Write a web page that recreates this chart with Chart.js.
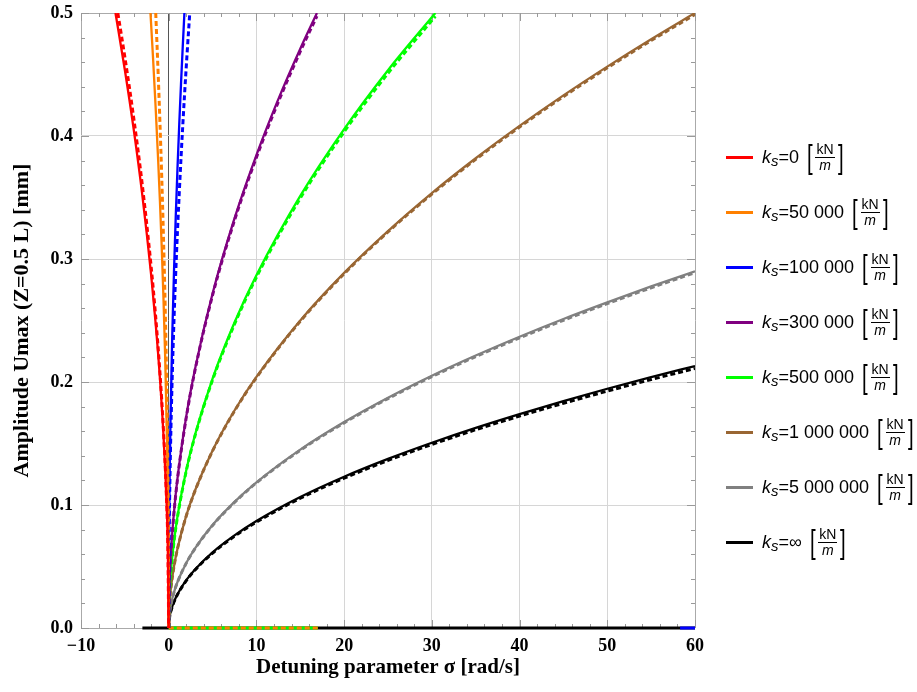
<!DOCTYPE html>
<html>
<head>
<meta charset="utf-8">
<title>Amplitude vs detuning</title>
<script src="https://cdn.jsdelivr.net/npm/chart.js@4.4.0/dist/chart.umd.min.js"></script>
<style>
  body { margin: 0; background: #fff; }
  #wrap { position: absolute; left: 0; top: 0; width: 917px; height: 692px; }
  #legend { position: absolute; left: 726px; top: 130px; font-family: "Liberation Sans", Arial, sans-serif; font-size: 18px; color: #000; }
  .legend-item { display: flex; align-items: center; height: 55px; white-space: nowrap; }
  .legend-color { width: 27px; height: 2.5px; margin-right: 9px; }
  .legend-label { display: flex; align-items: center; }
  .legend-label sub { font-size: 15px; position: relative; top: 3px; vertical-align: baseline; }
  .br { font-size: 34px; font-weight: normal; line-height: 1; margin: 0 1px; position: relative; top: -2px; transform: scaleX(0.6); display: inline-block; }
  .frac { display: inline-flex; flex-direction: column; align-items: center; font-size: 14px; line-height: 1.1; }
  .frac .num { border-bottom: 1px solid #000; padding: 0 1px; }
</style>
</head>
<body>
<div id="wrap"><canvas id="ampChart"></canvas></div>
<div id="legend"></div>
<script>
// tick labels / axes
const xTicks = [-10, 0, 10, 20, 30, 40, 50, 60];
const yTicks = [0, 0.1, 0.2, 0.3, 0.4, 0.5];

// legend
const ksLabels = ["0", "50 000", "100 000", "300 000", "500 000", "1 000 000", "5 000 000", "\u221e"];
const ksColors = ["#ff0000", "#ff8000", "#0000ff", "#800080", "#00ff00", "#996633", "#808080", "#000000"];

// sigma values (rad/s) and amplitudes (mm)
const redSigma = [-6.07, -5, -4, -3, -2, -1.5, -1, -0.6, -0.3, -0.1, 0];
const redAmp = [0.5, 0.4537, 0.4058, 0.3514, 0.2869, 0.2485, 0.2029, 0.1572, 0.1111, 0.0642, 0];
const redDashSigma = [-5.8, -5, -4, -3, -2, -1.5, -1, -0.6, -0.3, -0.1, 0];
const redDashAmp = [0.5, 0.4642, 0.4152, 0.3596, 0.2936, 0.2543, 0.2076, 0.1608, 0.1137, 0.0656, 0];

const orangeSigma = [-2.08, -1.8, -1.5, -1.2, -1, -0.8, -0.6, -0.4, -0.2, -0.1, -0.05, 0];
const orangeAmp = [0.5, 0.4651, 0.4246, 0.3798, 0.3467, 0.3101, 0.2686, 0.2193, 0.155, 0.1096, 0.0775, 0];
const orangeDashSigma = [-1.48, -1.2, -1, -0.8, -0.6, -0.4, -0.2, -0.1, -0.05, 0];
const orangeDashAmp = [0.5, 0.4502, 0.411, 0.3676, 0.3184, 0.2599, 0.1838, 0.13, 0.0919, 0];

const blueSigma = [0, 0.02, 0.05, 0.1, 0.2, 0.4, 0.6, 0.8, 1, 1.2, 1.4, 1.6, 1.79];
const blueAmp = [0, 0.0528, 0.0836, 0.1182, 0.1671, 0.2364, 0.2895, 0.3342, 0.3737, 0.4094, 0.4422, 0.4727, 0.5];
const blueDashSigma = [0, 0.02, 0.05, 0.1, 0.2, 0.4, 0.6, 0.8, 1, 1.4, 1.8, 2.1, 2.4];
const blueDashAmp = [0, 0.0456, 0.0722, 0.102, 0.1443, 0.2041, 0.25, 0.2886, 0.3227, 0.3818, 0.4329, 0.4676, 0.5];

const purpleSigma = [0, 0.1, 0.3, 0.6, 1, 2, 3, 5, 7.5, 10, 12.5, 15, 16.9];
const purpleAmp = [0, 0.0385, 0.0666, 0.0942, 0.1216, 0.172, 0.2106, 0.2719, 0.333, 0.3845, 0.43, 0.471, 0.5];
const purpleDashAmp = [0, 0.0383, 0.0663, 0.0937, 0.121, 0.1711, 0.2096, 0.2706, 0.3314, 0.3826, 0.4278, 0.4687, 0.4975];

const greenSigma = [0, 0.1, 0.3, 0.6, 1, 2, 3, 5, 7.5, 10, 15, 20, 25, 30.4];
const greenAmp = [0, 0.0287, 0.0497, 0.0703, 0.0907, 0.1283, 0.1571, 0.2028, 0.2484, 0.2868, 0.3513, 0.4056, 0.4535, 0.5];
const greenDashAmp = [0, 0.0285, 0.0494, 0.0699, 0.0902, 0.1276, 0.1563, 0.2017, 0.247, 0.2852, 0.3494, 0.4034, 0.451, 0.4973];

const wideSigma = [0, 0.1, 0.3, 0.6, 1, 2, 3, 5, 7.5, 10, 15, 20, 25, 30, 35, 40, 45, 50, 55, 60];
const brownAmp = [0, 0.0204, 0.0354, 0.05, 0.0645, 0.0913, 0.1118, 0.1443, 0.1768, 0.2041, 0.25, 0.2887, 0.3227, 0.3536, 0.3819, 0.4082, 0.433, 0.4564, 0.4787, 0.5];
const brownDashAmp = [0, 0.0204, 0.0353, 0.0499, 0.0644, 0.0911, 0.1115, 0.144, 0.1764, 0.2036, 0.2494, 0.288, 0.322, 0.3527, 0.381, 0.4073, 0.432, 0.4554, 0.4776, 0.4988];
const grayAmp = [0, 0.0118, 0.0205, 0.029, 0.0374, 0.0529, 0.0648, 0.0837, 0.1025, 0.1184, 0.145, 0.1674, 0.1872, 0.2051, 0.2215, 0.2368, 0.2512, 0.2647, 0.2777, 0.29];
const grayDashAmp = [0, 0.0118, 0.0204, 0.0289, 0.0373, 0.0527, 0.0646, 0.0834, 0.1021, 0.118, 0.1445, 0.1668, 0.1865, 0.2043, 0.2207, 0.2359, 0.2502, 0.2637, 0.2766, 0.2889];
const blackAmp = [0, 0.0087, 0.0151, 0.0213, 0.0275, 0.0389, 0.0476, 0.0615, 0.0753, 0.087, 0.1065, 0.123, 0.1375, 0.1506, 0.1627, 0.1739, 0.1845, 0.1945, 0.2039, 0.213];
const blackDashAmp = [0, 0.0086, 0.0149, 0.0211, 0.0272, 0.0385, 0.0472, 0.0609, 0.0746, 0.0861, 0.1055, 0.1218, 0.1362, 0.1492, 0.1612, 0.1723, 0.1827, 0.1926, 0.202, 0.211];

// trivial (zero amplitude) branch along the bottom
const zeroBlackSigma = [-3, 60];
const zeroGreenSigma = [0, 17];
const zeroBlueSigma = [58.3, 60];

function pts(xs, ys) {
  return xs.map((x, i) => ({ x: x, y: ys ? ys[i] : 0 }));
}

function curve(xs, ys, color, dashed) {
  const ds = {
    data: pts(xs, ys),
    borderColor: color,
    borderWidth: dashed ? 3 : 2.3,
    borderDash: dashed ? [5, 3] : [],
    pointRadius: 0,
    fill: false,
    cubicInterpolationMode: "monotone",
  };
  // zero branch sits on the frame, let it spill over the edge
  if (!ys) {
    ds.clip = 4;
    ds.borderWidth = 3;
  }
  return ds;
}

// Draw the small inward tick marks of the frame
const frameTicks = {
  id: "frameTicks",
  beforeDatasetsDraw(chart) {
    const { ctx, chartArea: a, scales: { x, y } } = chart;
    ctx.save();
    ctx.strokeStyle = "#999";
    ctx.lineWidth = 1;
    ctx.beginPath();
    for (let v = -10; v <= 60; v += 2) {
      const px = Math.round(x.getPixelForValue(v)) + 0.5;
      const len = v % 10 === 0 ? 8 : 4;
      ctx.moveTo(px, a.bottom); ctx.lineTo(px, a.bottom - len);
      ctx.moveTo(px, a.top); ctx.lineTo(px, a.top + len);
    }
    for (let i = 0; i <= 25; i++) {
      const py = Math.round(y.getPixelForValue(i * 0.02)) + 0.5;
      const len = i % 5 === 0 ? 8 : 4;
      ctx.moveTo(a.left, py); ctx.lineTo(a.left + len, py);
      ctx.moveTo(a.right, py); ctx.lineTo(a.right - len, py);
    }
    ctx.stroke();
    ctx.restore();
  },
};

document.addEventListener("DOMContentLoaded", () => {
  try {
    const datasets = [
      curve(redSigma, redAmp, ksColors[0], false),
      curve(redDashSigma, redDashAmp, ksColors[0], true),
      curve(orangeSigma, orangeAmp, ksColors[1], false),
      curve(orangeDashSigma, orangeDashAmp, ksColors[1], true),
      curve(blueSigma, blueAmp, ksColors[2], false),
      curve(blueDashSigma, blueDashAmp, ksColors[2], true),
      curve(purpleSigma, purpleAmp, ksColors[3], false),
      curve(purpleSigma, purpleDashAmp, ksColors[3], true),
      curve(greenSigma, greenAmp, ksColors[4], false),
      curve(greenSigma, greenDashAmp, ksColors[4], true),
      curve(wideSigma, brownAmp, ksColors[5], false),
      curve(wideSigma, brownDashAmp, ksColors[5], true),
      curve(wideSigma, grayAmp, ksColors[6], false),
      curve(wideSigma, grayDashAmp, ksColors[6], true),
      curve(wideSigma, blackAmp, ksColors[7], false),
      curve(wideSigma, blackDashAmp, ksColors[7], true),
      curve(zeroBlueSigma, null, ksColors[2], false),
      curve(zeroGreenSigma, null, ksColors[1], true),
      curve(zeroGreenSigma, null, ksColors[4], false),
      curve(zeroBlackSigma, null, ksColors[7], false),
    ];

    const edgeColor = "#aaaaaa";
    const gridColor = "#d6d6d6";
    const serif = "'Liberation Serif', 'Times New Roman', serif";

    new Chart(document.getElementById("ampChart"), {
      type: "line",
      data: { datasets: datasets },
      plugins: [frameTicks],
      options: {
        responsive: true,
        maintainAspectRatio: false,
        animation: false,
        layout: { padding: { left: 0, top: 13, right: 222, bottom: 0 } },
        plugins: { legend: { display: false }, tooltip: { enabled: false } },
        scales: {
          x: {
            type: "linear",
            min: xTicks[0],
            max: xTicks[xTicks.length - 1],
            afterFit: (s) => { s.height = 64; s.paddingLeft = 0; s.paddingRight = 0; },
            afterBuildTicks: (s) => { s.ticks = xTicks.map((v) => ({ value: v })); },
            border: { display: false },
            grid: {
              drawTicks: false,
              color: (c) => (c.tick.value === 0 ? "#555" : (c.tick.value === -10 || c.tick.value === 60 ? edgeColor : gridColor)),
            },
            ticks: {
              padding: 8,
              color: "#000",
              font: { family: serif, size: 18, weight: "bold" },
              callback: (v) => (v < 0 ? "\u2212" + Math.abs(v) : String(v)),
            },
            title: {
              display: true,
              text: "Detuning parameter \u03c3 [rad/s]",
              color: "#000",
              padding: { top: 0, bottom: 12 },
              font: { family: serif, size: 21, weight: "bold" },
            },
          },
          y: {
            type: "linear",
            min: 0,
            max: 0.5,
            afterFit: (s) => { s.width = 81; s.paddingTop = 0; s.paddingBottom = 0; },
            afterBuildTicks: (s) => { s.ticks = yTicks.map((v) => ({ value: v })); },
            border: { display: false },
            grid: {
              drawTicks: false,
              color: (c) => (c.tick.value === 0 || c.tick.value === 0.5 ? edgeColor : gridColor),
            },
            ticks: {
              padding: 8,
              color: "#000",
              font: { family: serif, size: 18, weight: "bold" },
              callback: (v) => Number(v).toFixed(1),
            },
            title: {
              display: true,
              text: "Amplitude Umax (Z=0.5 L) [mm]",
              color: "#000",
              padding: { top: 9, bottom: 0 },
              font: { family: serif, size: 22, weight: "bold" },
            },
          },
        },
      },
    });

    // Custom legend with k_s and [kN/m]
    const legend = document.getElementById("legend");
    legend.innerHTML = "";
    ksLabels.forEach((label, index) => {
      const item = document.createElement("div");
      item.className = "legend-item";
      item.innerHTML = `
      <div class="legend-color" style="background-color: ${ksColors[index]}"></div>
      <div class="legend-label"><i>k</i><sub><i>s</i></sub>=${label}&nbsp;<span class="br">[</span><span class="frac"><span class="num">kN</span><span class="den"><i>m</i></span></span><span class="br">]</span></div>
    `;
      legend.appendChild(item);
    });
  } catch (error) {
    console.error("Error initializing chart:", error);
  }
});
</script>
</body>
</html>
